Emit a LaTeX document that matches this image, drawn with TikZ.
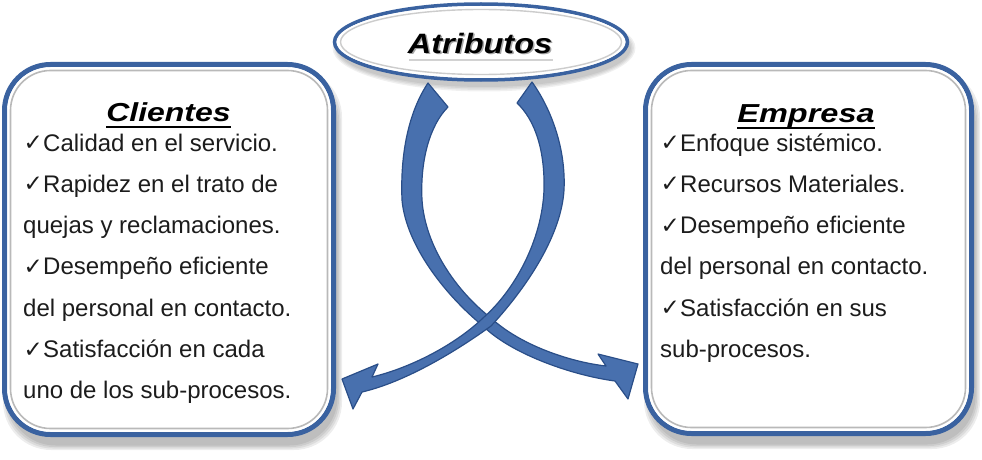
\documentclass[tikz,border=0pt]{standalone}
\usepackage{graphicx}
\usepackage{fontspec}
\setmainfont{Liberation Sans}
\newfontfamily\chkfont{DejaVu Sans}
\usetikzlibrary{shapes.geometric,calc}
\definecolor{bblue}{RGB}{58,98,160}
\definecolor{bdark}{RGB}{38,68,118}
\definecolor{afill}{RGB}{72,112,174}
\definecolor{aline}{RGB}{42,78,136}
\definecolor{txt}{RGB}{28,28,28}
\newcommand{\ck}{\makebox[20pt][l]{\hspace{0.5pt}\raisebox{0.5pt}{\chkfont\fontsize{23}{23}\selectfont ✓}}}
\tikzset{
  item/.style={anchor=base west, inner sep=0pt, font=\fontsize{24}{27}\selectfont, text=txt},
  ttl/.style={anchor=base, inner sep=0pt, font=\fontsize{26}{30}\selectfont\bfseries\itshape},
  panel/.style={rectangle, draw=bblue, line width=5pt, rounded corners=46pt, fill=white, inner sep=0pt},
  panelhi/.style={draw=white, line width=1pt, rounded corners=42pt},
  panelin/.style={draw=gray!55, line width=1.6pt, rounded corners=40pt},
  shade/.style={fill=black, opacity=0.07, rounded corners=48pt},
  ribbon/.style={fill=afill, draw=aline, line width=1.2pt, line join=round},
}
\begin{document}
\begin{tikzpicture}[x=1pt,y=-1pt]
\useasboundingbox (0,0) rectangle (982,460);
% shadows
\foreach \s in {0,1.5,3,4.5}{
  \fill[shade] (7.5-\s,73.5-\s) rectangle (337.5+\s,445.5+\s);
  \fill[shade] (648.5-\s,73.5-\s) rectangle (975.5+\s,444.5+\s);
  \fill[black,opacity=0.06] (484,48) ellipse ({147+\s} and {39+\s});
}
% panels
\node[panel, minimum width=329pt, minimum height=370pt] (cli) at (169,249.5) {};
\node[panel, minimum width=326pt, minimum height=369pt] (emp) at (808.5,249) {};
\draw[panelhi] (8,68) rectangle (330,431);
\draw[panelin] (10.5,70.5) rectangle (327.5,428.5);
\draw[panelhi] (649,68) rectangle (968,430);
\draw[panelin] (651.5,70.5) rectangle (965.5,427.5);
% ribbon arrows
\path[ribbon] (428,83) .. controls (410,110) and (400,150) .. (402,200)
  .. controls (406,245) and (445,295) .. (483,326)
  .. controls (510,353) and (570,375) .. (615,381)
  -- (628,399) -- (638,364) -- (598,354) -- (606,366)
  .. controls (570,362) and (520,345) .. (491,318)
  .. controls (455,290) and (425,245) .. (422,200)
  .. controls (420,160) and (430,125) .. (448,107) -- cycle;
\path[ribbon] (532,82) .. controls (552,110) and (566,150) .. (564,190)
  .. controls (561,240) and (520,295) .. (491,326)
  .. controls (455,352) and (405,382) .. (362,392)
  -- (353,409) -- (342,379) -- (378,364) -- (372,377)
  .. controls (410,368) and (455,345) .. (483,318)
  .. controls (515,290) and (542,240) .. (544,190)
  .. controls (545,150) and (535,120) .. (517,103) -- cycle;
% ellipse
\node[ellipse, draw=bblue, line width=3.5pt, fill=white, minimum width=293pt, minimum height=76pt, inner sep=0pt] (att) at (481,42) {};
\draw[white, line width=1pt] (481,42) ellipse (143 and 35);
\draw[gray!40, line width=1.4pt] (481,42) ellipse (140.5 and 32.5);
\draw[gray!35, line width=1.5pt] (409,60) -- (553,60);
\node[ttl, font=\fontsize{28}{32}\selectfont\bfseries\itshape, text=gray!70] (attsh) at (481.5,54.5) {\scalebox{1.16}[1]{Atributos}};
\node[ttl, font=\fontsize{28}{32}\selectfont\bfseries\itshape] (attxt) at (480,53) {\scalebox{1.16}[1]{Atributos}};
% titles
\node[ttl] (clt) at (168.5,121) {\scalebox{1.23}[1]{Clientes}};
\draw[line width=2pt] ($(clt.base west)+(0,6)$) -- ($(clt.base east)+(0,6)$);
\node[ttl] (ept) at (806,122) {\scalebox{1.25}[1]{Empresa}};
\draw[line width=2pt] ($(ept.base west)+(0,6)$) -- ($(ept.base east)+(0,6)$);
% left items
\node[item] (c1) at (23,151) {\ck Calidad en el servicio.};
\node[item] (c2) at (23,192.3) {\ck Rapidez en el trato de};
\node[item] (c3) at (23,233.6) {quejas y reclamaciones.};
\node[item] (c4) at (23,274.9) {\ck Desempeño eficiente};
\node[item] (c5) at (23,316.2) {del personal en contacto.};
\node[item] (c6) at (23,357.5) {\ck Satisfacción en cada};
\node[item] (c7) at (23,398.8) {uno de los sub-procesos.};
% right items
\node[item] (e1) at (660,151) {\ck Enfoque sistémico.};
\node[item] (e2) at (660,192.3) {\ck Recursos Materiales.};
\node[item] (e3) at (660,233.6) {\ck Desempeño eficiente};
\node[item] (e4) at (660,274.9) {del personal en contacto.};
\node[item] (e5) at (660,316.2) {\ck Satisfacción en sus};
\node[item] (e6) at (660,357.5) {sub-procesos.};
\end{tikzpicture}
\end{document}
